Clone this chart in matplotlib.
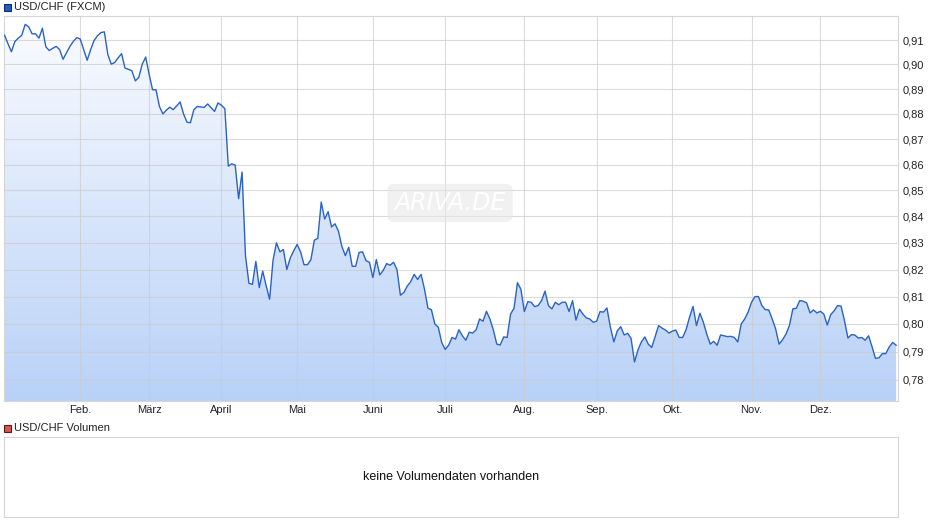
import numpy as np
import pandas as pd
import matplotlib
matplotlib.use('Agg')
import matplotlib.pyplot as plt
from matplotlib.patches import Rectangle, Polygon
from matplotlib.colors import LinearSegmentedColormap
from matplotlib.ticker import FixedLocator, FuncFormatter, NullLocator

plt.rcParams['font.family'] = ['Liberation Sans', 'DejaVu Sans']

# Handelstage 2025 (Mo-Fr)
dates = pd.bdate_range('2025-01-02', '2025-12-31')

usdchf = [
    0.9120, 0.9085, 0.9052, 0.9094, 0.9108, 0.9120, 0.9165, 0.9155, 0.9126, 0.9126,
    0.9108, 0.9149, 0.9072, 0.9057, 0.9066, 0.9074, 0.9061, 0.9021, 0.9048, 0.9074,
    0.9095, 0.9110, 0.9104, 0.9060, 0.9017, 0.9060, 0.9098, 0.9118, 0.9131, 0.9134,
    0.9041, 0.9001, 0.9008, 0.9027, 0.9044, 0.8985, 0.8980, 0.8974, 0.8933, 0.8947,
    0.9001, 0.9030, 0.8960, 0.8897, 0.8897, 0.8830, 0.8800, 0.8815, 0.8827, 0.8817,
    0.8832, 0.8848, 0.8800, 0.8767, 0.8765, 0.8817, 0.8830, 0.8828, 0.8826, 0.8840,
    0.8825, 0.8810, 0.8844, 0.8835, 0.8821, 0.8594, 0.8603, 0.8598, 0.8468, 0.8571,
    0.8250, 0.8149, 0.8145, 0.8230, 0.8133, 0.8194, 0.8140, 0.8090, 0.8235, 0.8300,
    0.8266, 0.8275, 0.8200, 0.8243, 0.8270, 0.8294, 0.8266, 0.8218, 0.8218, 0.8237,
    0.8310, 0.8317, 0.8455, 0.8390, 0.8418, 0.8360, 0.8372, 0.8344, 0.8286, 0.8252,
    0.8283, 0.8212, 0.8212, 0.8264, 0.8266, 0.8233, 0.8227, 0.8170, 0.8237, 0.8180,
    0.8197, 0.8222, 0.8216, 0.8227, 0.8200, 0.8105, 0.8115, 0.8139, 0.8155, 0.8182,
    0.8163, 0.8182, 0.8127, 0.8057, 0.8052, 0.8000, 0.7988, 0.7933, 0.7908, 0.7923,
    0.7951, 0.7945, 0.7979, 0.7957, 0.7941, 0.7970, 0.7967, 0.7979, 0.8018, 0.8010,
    0.8046, 0.8018, 0.7978, 0.7927, 0.7924, 0.7953, 0.7951, 0.8036, 0.8057, 0.8151,
    0.8127, 0.8045, 0.8081, 0.8079, 0.8063, 0.8067, 0.8085, 0.8120, 0.8067, 0.8055,
    0.8079, 0.8070, 0.8079, 0.8079, 0.8045, 0.8085, 0.8014, 0.8054, 0.8036, 0.8022,
    0.8018, 0.8006, 0.8010, 0.8045, 0.8043, 0.8058, 0.7988, 0.7935, 0.7975, 0.7990,
    0.7960, 0.7966, 0.7948, 0.7863, 0.7906, 0.7935, 0.7953, 0.7927, 0.7915, 0.7955,
    0.7994, 0.7985, 0.7978, 0.7967, 0.7974, 0.7978, 0.7951, 0.7951, 0.7980, 0.8025,
    0.8064, 0.7994, 0.8039, 0.8006, 0.7963, 0.7927, 0.7937, 0.7923, 0.7960, 0.7957,
    0.7954, 0.7955, 0.7951, 0.7935, 0.8000, 0.8018, 0.8043, 0.8079, 0.8100, 0.8100,
    0.8067, 0.8052, 0.8051, 0.8018, 0.7982, 0.7927, 0.7943, 0.7963, 0.7994, 0.8055,
    0.8057, 0.8085, 0.8083, 0.8077, 0.8040, 0.8051, 0.8040, 0.8046, 0.8036, 0.7996,
    0.8034, 0.8048, 0.8067, 0.8065, 0.8012, 0.7949, 0.7961, 0.7960, 0.7949, 0.7951,
    0.7941, 0.7957, 0.7918, 0.7876, 0.7878, 0.7893, 0.7893, 0.7917, 0.7933, 0.7923,
]

month_labels = ['Feb.', 'März', 'April', 'Mai', 'Juni', 'Juli', 'Aug.', 'Sep.', 'Okt.', 'Nov.', 'Dez.']
y_ticks = [0.78, 0.79, 0.80, 0.81, 0.82, 0.83, 0.84, 0.85, 0.86, 0.87, 0.88, 0.89, 0.90, 0.91]

x = np.arange(len(dates))
month_pos = [int(np.argmax(dates.month == m)) for m in range(2, 13)]

W, H = 940, 526
fig = plt.figure(figsize=(W / 100, H / 100), dpi=100)

# Hauptchart
ax = fig.add_axes([3.5 / W, 1 - 401 / H, 894 / W, 385 / H])
ax.set_yscale('log')
ymin, ymax = 0.7725, 0.9200
xmin, xmax = -0.3, len(x) - 0.6

# Verlauf unter der Kurve
cmap = LinearSegmentedColormap.from_list('fill', ['#b8d1f7', '#fbfcff'])
grad = np.linspace(0, 1, 256).reshape(-1, 1)
im = ax.imshow(grad, extent=[0, 1, 0, 1], transform=ax.transAxes, origin='lower',
               aspect='auto', cmap=cmap, zorder=1)
verts = list(zip(x, usdchf)) + [(x[-1], ymin), (xmin, ymin), (xmin, usdchf[0])]
clip = Polygon(verts, closed=True, facecolor='none', edgecolor='none', transform=ax.transData)
ax.add_patch(clip)
im.set_clip_path(clip)

ax.plot(x, usdchf, color='#2a62c6', lw=1.0, zorder=4)

ax.set_xlim(xmin, xmax)
ax.set_ylim(ymin, ymax)
ax.xaxis.set_major_locator(FixedLocator(month_pos))
ax.set_xticklabels(month_labels)
ax.yaxis.set_major_locator(FixedLocator(y_ticks))
ax.yaxis.set_minor_locator(NullLocator())
ax.yaxis.set_major_formatter(FuncFormatter(lambda v, p: f'{v:.2f}'.replace('.', ',')))
ax.yaxis.tick_right()
ax.tick_params(axis='both', length=0, labelsize=8, colors='#222222')
ax.tick_params(axis='y', pad=4)
ax.tick_params(axis='x', pad=3)
ax.grid(True, color='#cccccc', lw=0.8, alpha=0.7, zorder=2)
ax.set_axisbelow(False)
for s in ax.spines.values():
    s.set_color('#d6d6d6')
    s.set_linewidth(0.8)

# Wasserzeichen
fig.text(450 / W, 1 - 203 / H, 'ARIVA.DE', ha='center', va='center', fontsize=17,
         style='italic', color='white', alpha=0.95, family=['DejaVu Sans'],
         bbox=dict(boxstyle='round,pad=0.3', fc='#e6e6e6', ec='none', alpha=0.55))

# Legenden
fig.patches.append(Rectangle((4 / W, 1 - 11 / H), 7 / W, 7 / H, transform=fig.transFigure,
                             fc='#1f5cc0', ec='#102f66', lw=0.8))
fig.text(14 / W, 1 - 7 / H, 'USD/CHF (FXCM)', va='center', fontsize=8, color='#222222')
fig.patches.append(Rectangle((4 / W, 1 - 432 / H), 7 / W, 7 / H, transform=fig.transFigure,
                             fc='#d9534f', ec='#5a1a18', lw=0.8))
fig.text(14 / W, 1 - 428 / H, 'USD/CHF Volumen', va='center', fontsize=8, color='#222222')

# Volumen-Panel
ax2 = fig.add_axes([3.5 / W, 1 - 517 / H, 894.5 / W, 80 / H])
ax2.set_xticks([])
ax2.set_yticks([])
for s in ax2.spines.values():
    s.set_color('#d6d6d6')
    s.set_linewidth(0.8)
ax2.text(0.5, 0.5, 'keine Volumendaten vorhanden', ha='center', va='center',
         fontsize=9, color='#111111', transform=ax2.transAxes)

fig.savefig('out.png', dpi=100)
